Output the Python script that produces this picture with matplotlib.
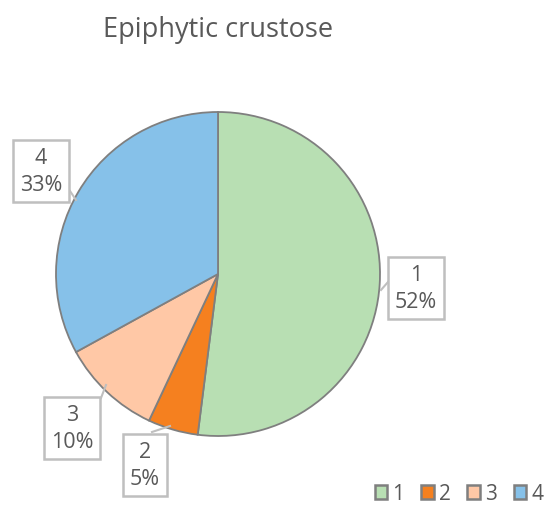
import matplotlib.pyplot as plt
from matplotlib.patches import Patch

plt.rcParams['font.family'] = ['Open Sans', 'DejaVu Sans']

# data
categories = ['1', '2', '3', '4']
shares = [52, 5, 10, 33]
colors = ['#B8DFB3', '#F5801F', '#FFC8A6', '#86C1E9']

text_gray = '#595959'
edge_gray = '#7F7F7F'

fig = plt.figure(figsize=(5.48, 5.10), dpi=100)
ax = fig.add_axes([0, 0, 1, 1])

# axes units are pixels, y measured from the bottom
H = 510
wedges, _ = ax.pie(shares, colors=colors, startangle=90, counterclock=False,
                   center=(218, H - 275), radius=162, frame=True,
                   wedgeprops=dict(edgecolor=edge_gray, linewidth=1.3))
ax.set_xlim(0, 548)
ax.set_ylim(0, H)
ax.set_aspect('equal')
ax.axis('off')

ax.text(218, H - 30, 'Epiphytic crustose', ha='center', va='center',
        fontsize=19.5, color=text_gray)

# data label callouts: (box centre, leader from, leader to) in pixels
label_pos = [(416, 289), (145, 466), (72, 429), (41, 172)]
leaders = [((388, 283), (381, 291)), ((152, 433), (170, 427)),
           ((101, 399), (106, 386)), ((70, 192), (76, 201))]
for cat, val, (x, y), (p0, p1) in zip(categories, shares, label_pos, leaders):
    ax.plot([p0[0], p1[0]], [H - p0[1], H - p1[1]], color='#BFBFBF', lw=1.5)
    ax.text(x, H - y, f'{cat}\n{val}%', ha='center', va='center',
            fontsize=15.5, color=text_gray, linespacing=1.4,
            bbox=dict(boxstyle='square,pad=0.3', fc='white', ec='#BFBFBF', lw=1.8))

handles = [Patch(facecolor=c, edgecolor=edge_gray, linewidth=1.8) for c in colors]
ax.legend(handles, categories, loc='lower right', bbox_to_anchor=(558, -10),
          bbox_transform=ax.transData, ncol=4, frameon=False, fontsize=15,
          labelcolor=text_gray, handlelength=0.6, handleheight=0.6,
          handletextpad=0.25, columnspacing=0.8, borderaxespad=0.3)

fig.savefig('out.png', dpi=100)
